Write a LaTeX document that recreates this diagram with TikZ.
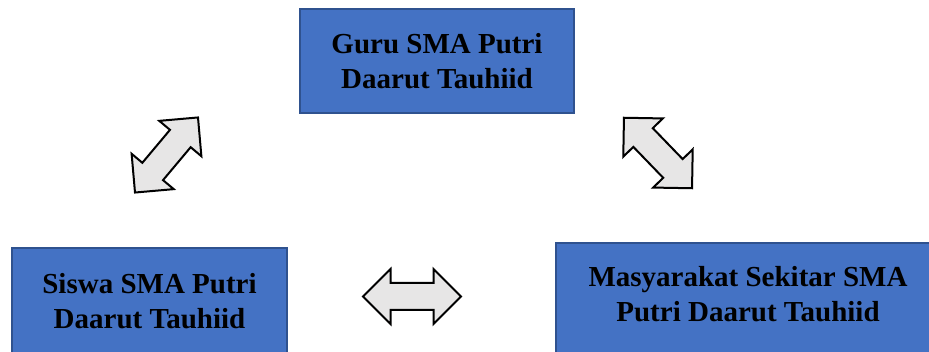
\documentclass[tikz,border=0pt]{standalone}
\usepackage{fontspec}
\setmainfont{Liberation Serif}
\usetikzlibrary{positioning, shapes.arrows}
\definecolor{boxblue}{HTML}{4472C4}
\definecolor{boxedge}{HTML}{2F528F}
\definecolor{arrowgray}{HTML}{E7E6E6}

\begin{document}
\begin{tikzpicture}
    [
        x=1pt, y=-1pt,
        blue_box/.style={rectangle, draw=boxedge, fill=boxblue, line width=1.5pt, align=center, inner sep=0pt, font=\fontsize{29}{35}\selectfont\bfseries},
        gray_arrow/.style={double arrow, draw=black, fill=arrowgray, line width=2pt, minimum height=98pt, double arrow head extend=14pt, double arrow tip angle=90, inner sep=12.5pt},
    ]
        \useasboundingbox (0,0) rectangle (929,352);
        \node[blue_box, minimum width=274pt, minimum height=104pt] (guru) at (437,61) {Guru SMA Putri\\Daarut Tauhiid} ;
        \node[blue_box, minimum width=275pt, minimum height=106pt] (siswa) at (149.5,301) {Siswa SMA Putri\\Daarut Tauhiid} ;
        \node[blue_box, minimum width=384pt, minimum height=124pt] (masyarakat) at (748,305) {Masyarakat Sekitar SMA\\Putri Daarut Tauhiid\\[-13pt]\mbox{}} ;
        \node[gray_arrow, rotate=50] (guru_siswa) at (166.5,155) {} ;
        \node[gray_arrow, rotate=-46] (guru_masyarakat) at (658,153) {} ;
        \node[gray_arrow] (siswa_masyarakat) at (412,296.5) {} ;
    \end{tikzpicture}
\end{document}
